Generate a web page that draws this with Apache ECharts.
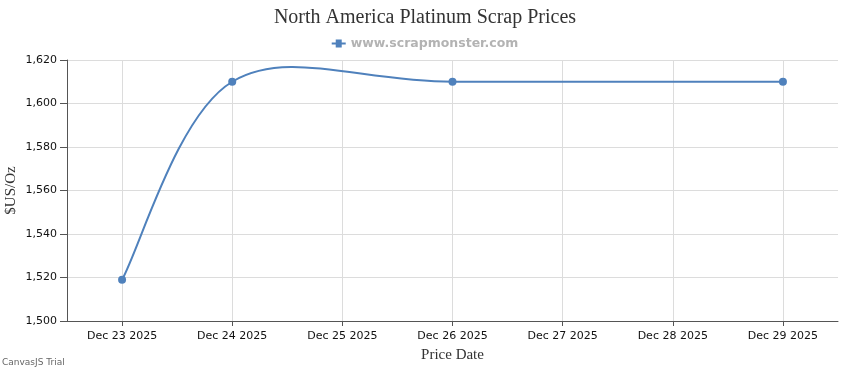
<!DOCTYPE html>
<html>
<head>
<meta charset="utf-8">
<script src="https://cdn.jsdelivr.net/npm/echarts@6/dist/echarts.min.js"></script>
<style>
html,body{margin:0;padding:0;background:#fff;}
#c{width:850px;height:370px;}
</style>
</head>
<body>
<div id="c"></div>
<script>
const titleText = 'North America Platinum Scrap Prices';
const seriesName = 'www.scrapmonster.com';
const axisDays = ['Dec 23 2025', 'Dec 24 2025', 'Dec 25 2025', 'Dec 26 2025', 'Dec 27 2025', 'Dec 28 2025', 'Dec 29 2025'];
const dates = ['Dec 23 2025', 'Dec 24 2025', 'Dec 26 2025', 'Dec 29 2025'];
const prices = [1519, 1610, 1610, 1610];
const yMin = 1500, yMax = 1620, yStep = 20;

const chart = echarts.init(document.getElementById('c'), null, {renderer: 'canvas'});
const blue = '#4F81BC';
const axisFont = 'DejaVu Sans';

const seriesData = dates.map((d, i) => [axisDays.indexOf(d), prices[i]]);

// Cardinal (Catmull-Rom) spline segments, computed in pixel space from the axis scales
function renderItem(params, api) {
  const i = params.dataIndex;
  const pts = seriesData.map(p => api.coord(p));
  const children = [];
  if (i > 0) {
    const p0 = pts[i - 1], p1 = pts[i];
    const a0 = pts[Math.max(i - 2, 0)], b0 = pts[i];
    const a1 = pts[i - 1], b1 = pts[Math.min(i + 1, pts.length - 1)];
    const cp1 = [p0[0] + (b0[0] - a0[0]) / 6, p0[1] + (b0[1] - a0[1]) / 6];
    const cp2 = [p1[0] - (b1[0] - a1[0]) / 6, p1[1] - (b1[1] - a1[1]) / 6];
    children.push({
      type: 'bezierCurve',
      shape: {x1: p0[0], y1: p0[1], cpx1: cp1[0], cpy1: cp1[1], cpx2: cp2[0], cpy2: cp2[1], x2: p1[0], y2: p1[1]},
      style: {stroke: blue, lineWidth: 2, fill: null},
      z2: 1
    });
  }
  const p = pts[i];
  children.push({
    type: 'circle',
    shape: {cx: p[0], cy: p[1], r: 4},
    style: {fill: blue},
    z2: 2
  });
  return {type: 'group', children: children};
}

chart.setOption({
  animation: false,
  backgroundColor: '#fff',
  title: {
    text: titleText,
    left: 'center',
    top: 3,
    textStyle: {fontFamily: 'Liberation Serif', fontSize: 20, fontWeight: 'normal', color: '#333'}
  },
  legend: {
    top: 32,
    left: 'center',
    itemWidth: 14,
    itemHeight: 8,
    itemGap: 5,
    icon: 'path://M0,3 L4,3 L4,0 L10,0 L10,3 L14,3 L14,5 L10,5 L10,8 L4,8 L4,5 L0,5 Z',
    textStyle: {fontFamily: 'DejaVu Sans', fontSize: 12.5, fontWeight: 'bold', color: '#b3b3b3'},
    data: [{name: seriesName, itemStyle: {color: blue}}]
  },
  grid: {left: 67, right: 12, top: 60, bottom: 49, containLabel: false, outerBoundsMode: 'none'},
  xAxis: {
    type: 'category',
    data: axisDays,
    boundaryGap: true,
    name: 'Price Date',
    nameLocation: 'middle',
    nameGap: 27,
    nameMoveOverlap: false,
    nameTextStyle: {fontFamily: 'Liberation Serif', fontSize: 15, color: '#333'},
    axisLine: {show: true, lineStyle: {color: '#555', width: 1}},
    axisTick: {show: true, alignWithLabel: true, length: 5, lineStyle: {color: '#555'}},
    axisLabel: {
      margin: 10, interval: 0,
      fontFamily: axisFont, fontSize: 11, color: '#111'
    },
    splitLine: {show: true, alignWithLabel: true, interval: 0, lineStyle: {color: '#dcdcdc', width: 1}}
  },
  yAxis: {
    type: 'value',
    min: yMin,
    max: yMax,
    interval: yStep,
    name: '$US/Oz',
    nameLocation: 'middle',
    nameRotate: 90,
    nameGap: 48,
    nameMoveOverlap: false,
    nameTextStyle: {fontFamily: 'Liberation Serif', fontSize: 15, color: '#333'},
    axisLine: {show: true, lineStyle: {color: '#555', width: 1}},
    axisTick: {show: true, length: 7, lineStyle: {color: '#555'}},
    axisLabel: {
      margin: 10,
      fontFamily: axisFont, fontSize: 11, color: '#111',
      formatter: function (v) { return v.toLocaleString('en-US'); }
    },
    splitLine: {show: true, lineStyle: {color: '#dcdcdc', width: 1}}
  },
  series: [{
    name: seriesName,
    type: 'custom',
    renderItem: renderItem,
    itemStyle: {color: blue},
    encode: {x: 0, y: 1},
    data: seriesData
  }],
  graphic: [{
    type: 'text',
    left: 2,
    top: 358,
    style: {text: 'CanvasJS Trial', fontFamily: 'DejaVu Sans', fontSize: 9, fill: '#666'}
  }]
});
</script>
</body>
</html>
